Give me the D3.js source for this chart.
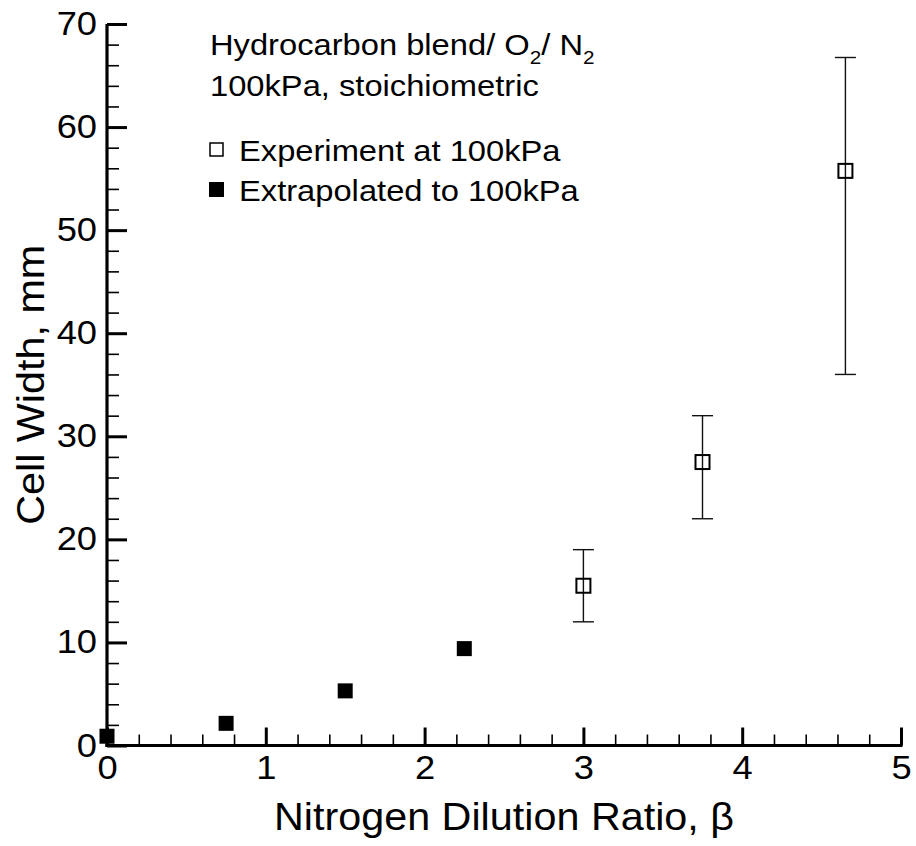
<!DOCTYPE html>
<html>
<head>
<meta charset="utf-8">
<script src="https://cdn.jsdelivr.net/npm/d3@7"></script>
<style>
  html, body { margin: 0; padding: 0; background: #fff; }
  svg { display: block; }
  text { font-family: "Liberation Sans", Arial, Helvetica, sans-serif; fill: #000; }
</style>
</head>
<body>
<svg id="chart" width="916" height="846"></svg>
<script>
// Nitrogen dilution ratio (beta) and detonation cell width (mm)
const extrapBeta = [0, 0.75, 1.5, 2.25];
const extrapWidth = [0.9, 2.15, 5.3, 9.4];

const expBeta = [3.0, 3.75, 4.65];
const expWidth = [15.5, 27.5, 55.75];
const expLow = [12, 22, 36];
const expHigh = [19, 32, 66.75];

const xTicks = [0, 1, 2, 3, 4, 5];
const yTicks = [0, 10, 20, 30, 40, 50, 60, 70];

const annotationLine2 = "100kPa, stoichiometric";
const legendLabels = ["Experiment at 100kPa", "Extrapolated to 100kPa"];

const svg = d3.select("#chart");

const x = d3.scaleLinear().domain([0, 5]).range([107, 901]);
const y = d3.scaleLinear().domain([0, 70]).range([745.5, 24]);

const xMinor = d3.range(0, 5.0001, 0.2).filter(v => Math.abs(v - Math.round(v)) > 1e-6);
const yMinor = d3.range(0, 70.0001, 2).filter(v => v % 10 !== 0);

// minor ticks (drawn first, under the axis lines)
svg.append("g")
  .attr("transform", `translate(0,${y(0)})`)
  .call(d3.axisBottom(x).tickValues(xMinor).tickSize(-11).tickSizeOuter(0).tickFormat(""))
  .call(g => g.select(".domain").remove())
  .call(g => g.selectAll("line").attr("stroke", "#000").attr("stroke-width", 1.6));

svg.append("g")
  .attr("transform", `translate(${x(0)},0)`)
  .call(d3.axisLeft(y).tickValues(yMinor).tickSize(-12).tickSizeOuter(0).tickFormat(""))
  .call(g => g.select(".domain").remove())
  .call(g => g.selectAll("line").attr("stroke", "#000").attr("stroke-width", 1.6));

const tickScale = 1.1;

// major x axis
const gx = svg.append("g")
  .attr("transform", `translate(0,${y(0)})`)
  .call(d3.axisBottom(x).tickValues(xTicks).tickSize(-18).tickSizeOuter(0).tickPadding(10).tickFormat(d3.format("d")));
gx.select(".domain").attr("stroke", "#000").attr("stroke-width", 3.2)
  .attr("d", `M${x(0) - 1.5},0H${x(5) + 1.5}`);
gx.selectAll("line").attr("stroke", "#000").attr("stroke-width", 3);
gx.selectAll("text")
  .attr("font-size", 33)
  .attr("font-family", "Liberation Sans, Arial, sans-serif")
  .attr("fill", "#000")
  .attr("transform", `scale(${tickScale},1)`);

// major y axis
const gy = svg.append("g")
  .attr("transform", `translate(${x(0)},0)`)
  .call(d3.axisLeft(y).tickValues(yTicks).tickSize(-20).tickSizeOuter(0).tickPadding(10).tickFormat(d3.format("d")));
gy.select(".domain").attr("stroke", "#000").attr("stroke-width", 3.2)
  .attr("d", `M0,${y(70)}V${y(0) + 1.5}`);
gy.selectAll("line").attr("stroke", "#000").attr("stroke-width", 3);
gy.selectAll("text")
  .attr("font-size", 33)
  .attr("font-family", "Liberation Sans, Arial, sans-serif")
  .attr("fill", "#000")
  .attr("x", -10 / tickScale)
  .attr("transform", `scale(${tickScale},1)`);

// axis titles
svg.append("text")
  .attr("transform", `translate(${(x(0) + x(5)) / 2},830) scale(1.06,1)`)
  .attr("text-anchor", "middle")
  .attr("font-size", 39)
  .text("Nitrogen Dilution Ratio, β");

svg.append("text")
  .attr("transform", `translate(44,${(y(0) + y(70)) / 2}) rotate(-90) scale(1.06,1)`)
  .attr("text-anchor", "middle")
  .attr("font-size", 39)
  .text("Cell Width, mm");

// error bars for the experimental points
const capHalf = 10.5;
const eb = svg.append("g").attr("stroke", "#111").attr("stroke-width", 1.4).attr("fill", "none");
expBeta.forEach((b, i) => {
  eb.append("line").attr("x1", x(b)).attr("x2", x(b)).attr("y1", y(expLow[i])).attr("y2", y(expHigh[i]));
  eb.append("line").attr("x1", x(b) - capHalf).attr("x2", x(b) + capHalf).attr("y1", y(expLow[i])).attr("y2", y(expLow[i]));
  eb.append("line").attr("x1", x(b) - capHalf).attr("x2", x(b) + capHalf).attr("y1", y(expHigh[i])).attr("y2", y(expHigh[i]));
});

// open squares: experiment
const openSize = 14;
svg.append("g").selectAll("rect")
  .data(expBeta.map((b, i) => [b, expWidth[i]]))
  .join("rect")
  .attr("x", d => x(d[0]) - openSize / 2)
  .attr("y", d => y(d[1]) - openSize / 2)
  .attr("width", openSize).attr("height", openSize)
  .attr("fill", "none").attr("stroke", "#000").attr("stroke-width", 2);

// filled squares: extrapolated
const filledSize = 15;
svg.append("g").selectAll("rect")
  .data(extrapBeta.map((b, i) => [b, extrapWidth[i]]))
  .join("rect")
  .attr("x", d => x(d[0]) - filledSize / 2)
  .attr("y", d => y(d[1]) - filledSize / 2)
  .attr("width", filledSize).attr("height", filledSize)
  .attr("fill", "#000");

// annotation block
const annScale = 1.09;
const ann1 = svg.append("text")
  .attr("transform", `translate(210,55) scale(${annScale},1)`)
  .attr("font-size", 30);
ann1.append("tspan").text("Hydrocarbon blend/ O");
ann1.append("tspan").attr("font-size", 19).attr("dy", 9).text("2");
ann1.append("tspan").attr("dy", -9).text("/ N");
ann1.append("tspan").attr("font-size", 19).attr("dy", 9).text("2");

svg.append("text")
  .attr("transform", `translate(210,96) scale(${annScale},1)`)
  .attr("font-size", 30)
  .text(annotationLine2);

// legend
const legendY = [161, 201];
const lg = svg.append("g");
lg.append("rect").attr("x", 210).attr("y", legendY[0] - 18).attr("width", 13).attr("height", 13)
  .attr("fill", "none").attr("stroke", "#000").attr("stroke-width", 1.5);
lg.append("rect").attr("x", 209).attr("y", legendY[1] - 19).attr("width", 15).attr("height", 15)
  .attr("fill", "#000");
legendLabels.forEach((t, i) => {
  lg.append("text")
    .attr("transform", `translate(239,${legendY[i]}) scale(${annScale},1)`)
    .attr("font-size", 30)
    .text(t);
});
</script>
</body>
</html>
